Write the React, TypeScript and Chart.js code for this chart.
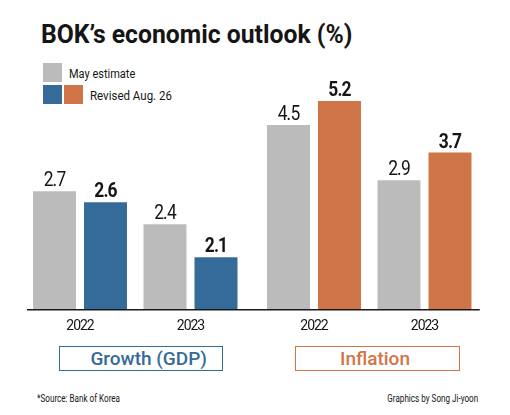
import React, { useEffect, useRef } from 'react';
import { Chart, registerables } from 'chart.js';

Chart.register(...registerables);

// ---- data ----
const years = ['2022', '2023'];
const gdpMay = [2.7, 2.4];
const gdpRevised = [2.6, 2.1];
const inflationMay = [4.5, 2.9];
const inflationRevised = [5.2, 3.7];
const groupNames = ['Growth (GDP)', 'Inflation'];
const legendLabels = ['May estimate', 'Revised Aug. 26'];
const titleText = 'BOK\u2019s economic outlook (%)';
const sourceText = '*Source: Bank of Korea';
const creditText = 'Graphics by Song Ji-yoon';

// ---- style ----
const GRAY = '#bbbbbb';
const BLUE = '#356b98';
const ORANGE = '#d07548';
const INK = '#151515';
const FONT = 'Roboto, "Noto Sans", sans-serif';

const valueLabels = {
  id: 'valueLabels',
  afterDatasetsDraw(chart: any) {
    const ctx = chart.ctx;
    chart.data.datasets.forEach((ds: any, di: number) => {
      const meta = chart.getDatasetMeta(di);
      meta.data.forEach((el: any, i: number) => {
        const v = ds.data[i];
        if (v == null) return;
        ctx.save();
        ctx.font = `${ds.labelWeight} 21px ${FONT}`;
        ctx.fillStyle = INK;
        ctx.textAlign = 'center';
        ctx.textBaseline = 'alphabetic';
        ctx.translate(el.x, el.y - 5);
        ctx.scale(0.83, 1);
        ctx.fillText(Number(v).toFixed(1), 0, 0);
        ctx.restore();
      });
    });
  },
};

const baseLine = {
  id: 'baseLine',
  beforeDraw(chart: any) {
    chart.ctx.letterSpacing = '-1px';
  },
  afterDraw(chart: any, _args: any, opts: any) {
    const { ctx, chartArea } = chart;
    ctx.letterSpacing = '0px';
    const x0 = opts.toLeftEdge ? 0 : chartArea.left + (opts.inset || 0);
    const x1 = opts.toRightEdge ? chart.width : chartArea.right;
    ctx.save();
    ctx.fillStyle = '#1a1a1a';
    ctx.fillRect(x0, chartArea.bottom, x1 - x0, 1.5);
    ctx.restore();
  },
};

function makeConfig(
  may: number[],
  revised: number[],
  color: string,
  yMin: number,
  yMax: number,
  padding: any,
  line: any
): any {
  return {
    type: 'bar',
    data: {
      labels: years,
      datasets: [
        { label: legendLabels[0], data: may, backgroundColor: GRAY, labelWeight: 400, base: yMin },
        { label: legendLabels[1], data: revised, backgroundColor: color, labelWeight: 700, base: yMin },
      ],
    },
    options: {
      responsive: false,
      animation: false,
      devicePixelRatio: 1,
      layout: { padding },
      datasets: { bar: { barPercentage: 0.843, categoryPercentage: 0.923, borderWidth: 0 } },
      plugins: {
        legend: { display: false },
        tooltip: { enabled: false },
        title: { display: false },
        baseLine: line,
      },
      scales: {
        x: {
          grid: { display: false, drawTicks: false },
          border: { display: false },
          ticks: { font: { family: FONT, size: 14 }, color: INK, padding: 9 },
          afterFit: (s: any) => {
            s.height = 30;
          },
        },
        y: { display: false, min: yMin, max: yMax },
      },
    },
    plugins: [valueLabels, baseLine],
  };
}

function BarChart(props: { config: any; left: number; width: number }) {
  const ref = useRef<HTMLCanvasElement>(null);
  useEffect(() => {
    if (!ref.current) return;
    const chart = new Chart(ref.current, props.config);
    return () => chart.destroy();
  }, []);
  return (
    <canvas
      ref={ref}
      width={props.width}
      height={289}
      style={{ position: 'absolute', left: props.left, top: 50, width: props.width, height: 289 }}
    />
  );
}

function Txt(props: {
  text: string;
  left?: number;
  right?: number;
  top: number;
  size: number;
  weight?: number;
  color?: string;
  sx?: number;
}) {
  const origin = props.right != null ? 'right' : 'left';
  return (
    <div
      style={{
        position: 'absolute',
        left: props.left,
        right: props.right,
        top: props.top,
        fontFamily: FONT,
        fontSize: props.size,
        lineHeight: `${props.size}px`,
        fontWeight: props.weight || 400,
        color: props.color || INK,
        whiteSpace: 'nowrap',
        transform: `scaleX(${props.sx || 1})`,
        transformOrigin: origin,
      }}
    >
      {props.text}
    </div>
  );
}

function Box(props: { left: number; width: number; color: string; text: string; textCenter: number }) {
  return (
    <>
      <div
        style={{
          position: 'absolute',
          left: props.left,
          top: 346,
          width: props.width,
          height: 25,
          border: `1px solid ${props.color}`,
          boxSizing: 'border-box',
        }}
      />
      <div
        style={{
          position: 'absolute',
          left: props.textCenter - 100,
          width: 200,
          top: 349,
          textAlign: 'center',
          fontFamily: FONT,
          fontSize: 19,
          lineHeight: '19px',
          fontWeight: 500,
          color: props.color,
          whiteSpace: 'nowrap',
        }}
      >
        {props.text}
      </div>
    </>
  );
}

export default function App() {
  const gdpConfig = makeConfig(gdpMay, gdpRevised, BLUE, 1.63, 3.62, { left: 24.75, right: 6.25, top: 40, bottom: 0 }, { inset: 2.25, toRightEdge: true });
  const infConfig = makeConfig(inflationMay, inflationRevised, ORANGE, -0.845, 5.52, { left: 6.75, right: 30.25, top: 40, bottom: 0 }, { toLeftEdge: true });
  return (
    <div
      style={{
        position: 'absolute',
        left: 0,
        top: 0,
        width: 510,
        height: 415,
        background: '#ffffff',
        overflow: 'hidden',
      }}
    >
      <Txt text={titleText} left={41} top={21.5} size={25.5} weight={700} sx={0.97} />
      <div style={{ position: 'absolute', left: 43, top: 63, width: 19, height: 19, background: GRAY }} />
      <Txt text={legendLabels[0]} left={69} top={67.8} size={12.5} sx={0.88} />
      <div style={{ position: 'absolute', left: 43, top: 85, width: 19, height: 19, background: BLUE }} />
      <div style={{ position: 'absolute', left: 64, top: 85, width: 19, height: 19, background: ORANGE }} />
      <Txt text={legendLabels[1]} left={90} top={89.5} size={12.5} sx={0.92} />
      <BarChart config={gdpConfig} left={0} width={252} />
      <BarChart config={infConfig} left={252} width={258} />
      <Box left={59} width={164} color={BLUE} text={groupNames[0]} textCenter={148.7} />
      <Box left={295} width={165} color={ORANGE} text={groupNames[1]} textCenter={375} />
      <Txt text={sourceText} left={37} top={393.6} size={10} sx={0.81} />
      <Txt text={creditText} right={32} top={393.6} size={10} sx={0.81} />
    </div>
  );
}
